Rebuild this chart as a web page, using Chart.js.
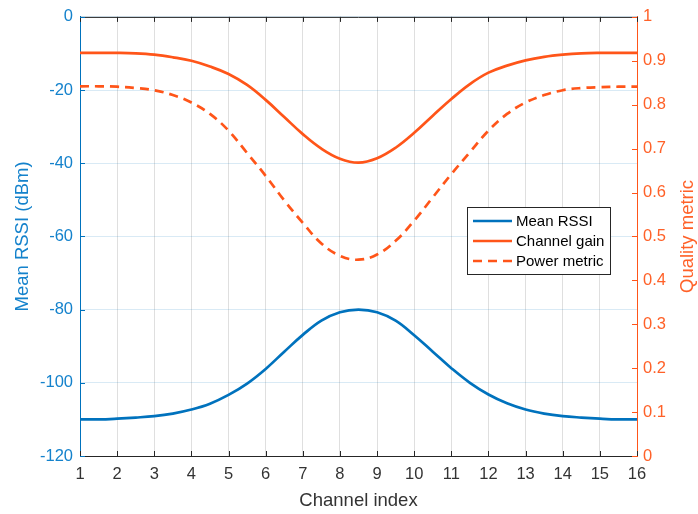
<!DOCTYPE html>
<html>
<head>
<meta charset="utf-8">
<script src="https://cdn.jsdelivr.net/npm/chart.js@4.4.1/dist/chart.umd.min.js"></script>
<style>
  html, body { margin: 0; padding: 0; background: #fff; }
</style>
</head>
<body>
<canvas id="myChart" width="698" height="514"></canvas>
<script>
// DATA
const channels = [1, 1.5, 2, 2.5, 3, 3.5, 4, 4.5, 5, 5.5, 6, 6.5, 7, 7.5, 8, 8.5,
                  9, 9.5, 10, 10.5, 11, 11.5, 12, 12.5, 13, 13.5, 14, 14.5, 15, 15.5, 16];
const meanRssi = [-110, -110, -109.8, -109.5, -109.1, -108.4, -107.3, -105.7, -103.3, -100.2, -96.2, -91.5, -86.9, -83.0, -80.7, -80.0,
                  -80.7, -83.0, -87.0, -91.5, -96.0, -100.0, -103.2, -105.6, -107.3, -108.4, -109.1, -109.5, -109.8, -110, -110];
const channelGain = [0.918, 0.918, 0.918, 0.917, 0.914, 0.908, 0.900, 0.887, 0.870, 0.845, 0.811, 0.772, 0.733, 0.700, 0.677, 0.668,
                     0.678, 0.702, 0.736, 0.775, 0.813, 0.847, 0.873, 0.889, 0.901, 0.909, 0.914, 0.917, 0.918, 0.918, 0.918];
const powerMetric = [0.842, 0.842, 0.841, 0.838, 0.833, 0.822, 0.805, 0.779, 0.741, 0.690, 0.638, 0.582, 0.531, 0.484, 0.456, 0.447,
                     0.459, 0.490, 0.536, 0.589, 0.642, 0.692, 0.741, 0.779, 0.805, 0.822, 0.833, 0.838, 0.840, 0.841, 0.841];
const xTicks = [1, 2, 3, 4, 5, 6, 7, 8, 9, 10, 11, 12, 13, 14, 15, 16];
const leftTicks = [0, -20, -40, -60, -80, -100, -120];
const rightTicks = ["0", "0.1", "0.2", "0.3", "0.4", "0.5", "0.6", "0.7", "0.8", "0.9", "1"];

const BLUE = "#0072BD";
const BLUE_TXT = "#1482CC";
const ORANGE = "#FF5519";
const ORANGE_TXT = "#FF6128";
const AXIS = "#262626";
const FONT = "'Liberation Sans', Arial, sans-serif";

const pts = (ys) => channels.map((c, i) => ({ x: c, y: ys[i] }));

// inward ticks, top box line, right title and legend, MATLAB style
const matlabBits = {
    id: "matlabBits",
    afterDraw(chart) {
        const ctx = chart.ctx;
        const a = chart.chartArea;
        const sx = chart.scales.x, sy = chart.scales.y, sy1 = chart.scales.y1;
        const tl = 5;
        ctx.save();
        ctx.lineWidth = 1;

        ctx.strokeStyle = AXIS;
        ctx.beginPath();
        ctx.moveTo(a.left, a.top + 0.5);
        ctx.lineTo(a.right, a.top + 0.5);
        xTicks.forEach((v) => {
            const px = Math.round(sx.getPixelForValue(v)) + 0.5;
            ctx.moveTo(px, a.bottom);
            ctx.lineTo(px, a.bottom - tl);
            ctx.moveTo(px, a.top);
            ctx.lineTo(px, a.top + tl);
        });
        ctx.stroke();

        ctx.strokeStyle = BLUE;
        ctx.beginPath();
        leftTicks.forEach((v) => {
            const py = Math.round(sy.getPixelForValue(v)) + 0.5;
            ctx.moveTo(a.left, py);
            ctx.lineTo(a.left + tl, py);
        });
        ctx.stroke();

        ctx.strokeStyle = ORANGE;
        ctx.beginPath();
        rightTicks.forEach((v) => {
            const py = Math.round(sy1.getPixelForValue(Number(v))) + 0.5;
            ctx.moveTo(a.right, py);
            ctx.lineTo(a.right - tl, py);
        });
        ctx.stroke();

        // right axis title, reading bottom to top
        ctx.fillStyle = ORANGE_TXT;
        ctx.font = "18.5px " + FONT;
        ctx.textAlign = "center";
        ctx.textBaseline = "middle";
        ctx.translate(688, (a.top + a.bottom) / 2);
        ctx.rotate(-Math.PI / 2);
        ctx.fillText("Quality metric", 0, 0);
        ctx.setTransform(1, 0, 0, 1, 0, 0);

        // legend
        const lx = 467.5, ly = 207.5, lw = 143, lh = 67;
        ctx.fillStyle = "#fff";
        ctx.fillRect(lx, ly, lw, lh);
        ctx.strokeStyle = AXIS;
        ctx.strokeRect(lx, ly, lw, lh);
        ctx.font = "15px " + FONT;
        ctx.textAlign = "left";
        ctx.textBaseline = "middle";
        chart.data.datasets.forEach((ds, i) => {
            const ry = 221 + i * 20;
            ctx.strokeStyle = ds.borderColor;
            ctx.lineWidth = ds.borderWidth;
            ctx.setLineDash(ds.borderDash || []);
            ctx.beginPath();
            ctx.moveTo(473, ry);
            ctx.lineTo(512, ry);
            ctx.stroke();
            ctx.setLineDash([]);
            ctx.fillStyle = "#000";
            ctx.fillText(ds.label, 516, ry + 1);
        });
        ctx.restore();
    },
};

const data = {
    datasets: [
        {
            label: "Mean RSSI",
            data: pts(meanRssi),
            yAxisID: "y",
            borderColor: BLUE,
            borderWidth: 2.7,
        },
        {
            label: "Channel gain",
            data: pts(channelGain),
            yAxisID: "y1",
            borderColor: ORANGE,
            borderWidth: 2.7,
        },
        {
            label: "Power metric",
            data: pts(powerMetric),
            yAxisID: "y1",
            borderColor: ORANGE,
            borderWidth: 2.7,
            borderDash: [9, 6],
        },
    ],
};

const config = {
    type: "line",
    data: data,
    plugins: [matlabBits],
    options: {
        responsive: false,
        animation: false,
        layout: { padding: { top: 16 } },
        elements: {
            point: { radius: 0 },
            line: { tension: 0.4 },
        },
        scales: {
            x: {
                type: "linear",
                min: 1,
                max: 16,
                afterBuildTicks: (s) => { s.ticks = xTicks.map((v) => ({ value: v })); },
                afterFit: (s) => { s.height = 58; },
                ticks: { color: "#333", font: { family: FONT, size: 16.5 }, padding: 9 },
                grid: { color: "rgba(38,38,38,0.15)", drawTicks: false },
                border: { color: AXIS },
                title: {
                    display: true,
                    text: "Channel index",
                    color: "#333",
                    font: { family: FONT, size: 18.5, lineHeight: 1 },
                    padding: { top: 0, bottom: 4 },
                },
            },
            y: {
                position: "left",
                min: -120,
                max: 0,
                afterBuildTicks: (s) => { s.ticks = leftTicks.map((v) => ({ value: v })); },
                afterFit: (s) => { s.width = 80; },
                ticks: { color: BLUE_TXT, font: { family: FONT, size: 16.5 }, padding: 7 },
                grid: { color: "rgba(0,114,189,0.15)", drawTicks: false },
                border: { color: BLUE },
                title: {
                    display: true,
                    text: "Mean RSSI (dBm)",
                    color: BLUE_TXT,
                    font: { family: FONT, size: 18.5, lineHeight: 1 },
                    padding: { top: 14, bottom: 0 },
                },
            },
            y1: {
                position: "right",
                min: 0,
                max: 1,
                afterBuildTicks: (s) => { s.ticks = rightTicks.map((v) => ({ value: Number(v) })); },
                afterFit: (s) => { s.width = 61; },
                ticks: {
                    color: ORANGE_TXT,
                    font: { family: FONT, size: 16.5 },
                    padding: 6,
                    callback: (v, i) => rightTicks[i],
                },
                grid: { drawOnChartArea: false, drawTicks: false },
                border: { color: ORANGE },
            },
        },
        plugins: {
            legend: { display: false },
            tooltip: { enabled: false },
        },
    },
};

const myChart = new Chart(document.getElementById("myChart"), config);
</script>
</body>
</html>
